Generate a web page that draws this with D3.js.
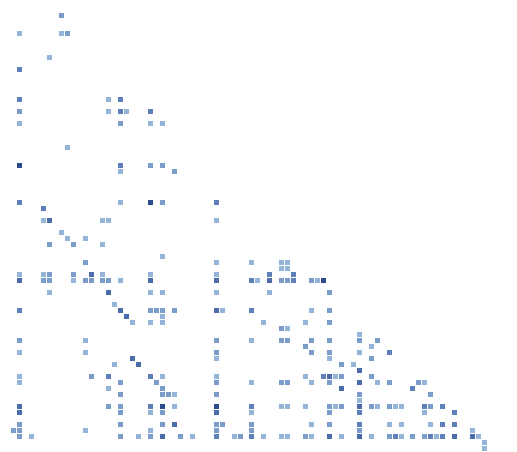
<!DOCTYPE html>
<html><head><meta charset="utf-8">
<script src="https://cdn.jsdelivr.net/npm/d3@7"></script>
<style>body{margin:0;background:#fff}svg{display:block}</style>
</head><body>
<svg id="chart" width="517" height="452"></svg>
<script>
// column / row index domains
const columnIds = d3.range(80);
const rowIds = d3.range(73);
// shade levels and their colours
const shadeLevels = [1, 2, 3, 4, 5];
const shadeColors = ["#94b4d8", "#7a9dcb", "#5e80b8", "#4a6cab", "#2b4b8c"];
// each row: [rowId, [[columnId, shade], ...]]
const matrixRows = [
  [0, [[8,2]]],
  [3, [[1,1],[8,1],[9,2]]],
  [7, [[6,1]]],
  [9, [[1,3]]],
  [14, [[1,3],[16,1],[18,3]]],
  [16, [[1,2],[16,1],[18,3],[19,1],[23,3]]],
  [18, [[1,1],[18,2],[23,1],[25,1]]],
  [22, [[9,1]]],
  [25, [[1,5],[18,3],[23,2],[25,2]]],
  [26, [[18,1],[27,2]]],
  [31, [[1,3],[18,1],[23,5],[25,2],[34,3]]],
  [32, [[5,3]]],
  [34, [[5,1],[6,4],[15,1],[16,1],[34,1]]],
  [36, [[8,1]]],
  [37, [[9,1],[12,1]]],
  [38, [[6,2],[10,2],[15,1]]],
  [40, [[25,1]]],
  [41, [[12,2],[34,1],[40,1],[45,1],[46,1]]],
  [42, [[45,1],[46,1]]],
  [43, [[1,1],[5,1],[6,2],[10,2],[13,4],[15,1],[23,1],[34,1],[43,3],[47,3]]],
  [44, [[1,4],[5,2],[6,2],[10,1],[12,2],[13,2],[15,2],[16,2],[18,1],[23,4],[34,4],[40,3],[41,1],[43,4],[45,2],[46,2],[47,3],[50,2],[51,1],[52,5]]],
  [46, [[6,1],[16,4],[23,1],[25,1],[34,1],[43,1],[53,2]]],
  [48, [[17,1]]],
  [49, [[1,3],[18,4],[23,2],[24,2],[25,2],[27,2],[34,4],[35,1],[40,3],[50,1],[53,2]]],
  [50, [[19,4],[25,1]]],
  [51, [[20,1],[23,1],[25,1],[42,1],[49,1],[53,2]]],
  [52, [[45,2],[46,1]]],
  [53, [[58,1]]],
  [54, [[1,2],[12,1],[34,2],[40,1],[45,2],[46,2],[50,2],[53,2],[58,2],[61,2]]],
  [55, [[49,2],[60,1]]],
  [56, [[1,1],[12,1],[34,2],[50,2],[53,2],[58,1],[63,3]]],
  [57, [[20,4],[34,1],[53,1],[60,2]]],
  [58, [[17,1],[21,4],[55,2],[57,1]]],
  [59, [[58,4]]],
  [60, [[1,1],[13,2],[16,3],[23,3],[25,1],[34,1],[49,1],[52,3],[53,4],[54,1],[55,2],[60,2]]],
  [61, [[1,1],[18,2],[24,2],[34,2],[40,1],[45,2],[46,2],[50,1],[53,2],[58,4],[61,1],[63,2],[68,2],[69,1]]],
  [62, [[16,1],[25,2],[55,4],[67,3]]],
  [63, [[18,2],[25,2],[26,2],[27,1],[34,2],[58,2],[70,2]]],
  [64, [[58,1]]],
  [65, [[1,4],[16,2],[18,2],[23,3],[25,5],[27,1],[34,5],[40,3],[45,1],[46,1],[49,1],[53,2],[54,1],[55,2],[58,4],[60,2],[61,1],[63,2],[64,1],[65,1],[69,3],[70,2],[72,3]]],
  [66, [[1,4],[18,2],[23,1],[25,2],[34,4],[40,1],[53,2],[58,3],[69,1],[74,3]]],
  [68, [[1,2],[18,2],[25,2],[27,4],[34,2],[35,2],[40,2],[50,1],[53,2],[58,3],[63,1],[65,1],[70,1],[72,3],[74,3]]],
  [69, [[0,2],[1,2],[12,1],[23,1],[34,2],[40,2],[58,2],[77,1]]],
  [70, [[1,2],[3,1],[18,2],[21,1],[23,2],[25,4],[28,2],[30,1],[34,3],[37,1],[38,2],[40,3],[42,1],[45,1],[46,1],[49,2],[50,1],[53,4],[55,1],[58,4],[60,1],[63,2],[64,3],[65,1],[67,2],[69,2],[70,3],[71,1],[72,3],[74,4],[77,4],[78,1]]],
  [71, [[79,1]]],
  [72, [[79,1]]]
];

const cells = matrixRows.flatMap(([r, list]) => list.map(([c, s]) => ({row: r, col: c, shade: s})));

const x = d3.scaleLinear().domain([d3.min(columnIds), d3.max(columnIds)]).range([11, 482]);
const y = d3.scaleLinear().domain([d3.min(rowIds), d3.max(rowIds)]).range([13.05, 446.25]);
const color = d3.scaleOrdinal().domain(shadeLevels).range(shadeColors);
const size = 5;

const svg = d3.select("#chart");
svg.append("g")
  .attr("shape-rendering", "crispEdges")
  .selectAll("rect")
  .data(cells)
  .join("rect")
  .attr("x", d => Math.round(x(d.col)))
  .attr("y", d => Math.round(y(d.row)))
  .attr("width", size)
  .attr("height", size)
  .attr("fill", d => color(d.shade));
</script>
</body></html>
